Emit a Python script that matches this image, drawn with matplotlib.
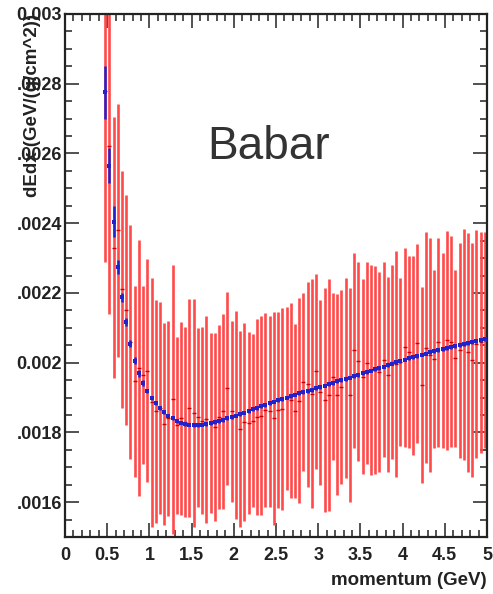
import numpy as np
import matplotlib
matplotlib.use("Agg")
import matplotlib.pyplot as plt
from matplotlib.ticker import FixedLocator, FixedFormatter, MultipleLocator

plt.rcParams['font.family'] = ['Liberation Sans', 'DejaVu Sans']

# ---------------- data ----------------
momentum = np.round(np.arange(0.475, 5.0, 0.05), 3)   # bin centres (GeV)

red_y = [0.00278, 0.00262, 0.00233, 0.00238, 0.00221, 0.00215, 0.00206, 0.001946, 0.001985, 0.001965,
         0.001977, 0.001886, 0.00186, 0.00187, 0.001825, 0.00184, 0.001895, 0.00182, 0.00184, 0.00183,
         0.001869, 0.001855, 0.001843, 0.001834, 0.001837, 0.001826, 0.001816, 0.001843, 0.00186, 0.001926,
         0.00186, 0.00185, 0.00181, 0.00183, 0.001828, 0.001834, 0.001844, 0.001848, 0.001865, 0.00186,
         0.00184, 0.001864, 0.001867, 0.001898, 0.001892, 0.001861, 0.001891, 0.001945, 0.001938, 0.001911,
         0.001975, 0.001915, 0.001893, 0.001907, 0.00196, 0.001908, 0.00193, 0.001956, 0.001908, 0.002035,
         0.002004, 0.00196, 0.002, 0.001979, 0.00198, 0.001974, 0.002009, 0.001965, 0.002002, 0.001996,
         0.002001, 0.002044, 0.00203, 0.00202, 0.002055, 0.001935, 0.002043, 0.002022, 0.00201, 0.002058,
         0.002035, 0.002064, 0.00206, 0.002012, 0.002035, 0.002052, 0.00203, 0.002008, 0.002053, 0.002058,
         0.002065]
red_err = [0.00049, 0.00048, 0.000375, 0.000363, 0.00034, 0.00033, 0.000336, 0.000273, 0.000368, 0.000255,
           0.00032, 0.000356, 0.00032, 0.000303, 0.00029, 0.00028, 0.000385, 0.000254, 0.000278, 0.000273,
           0.000313, 0.000327, 0.000256, 0.000267, 0.000298, 0.000258, 0.00027, 0.000264, 0.00028, 0.000278,
           0.00026, 0.000298, 0.00028, 0.000285, 0.000261, 0.000247, 0.00028, 0.000285, 0.000278, 0.000274,
           0.000306, 0.000282, 0.00029, 0.000263, 0.00028, 0.00025, 0.000294, 0.000255, 0.000294, 0.000329,
           0.00028, 0.000265, 0.00032, 0.000333, 0.000239, 0.000288, 0.000279, 0.000288, 0.000307, 0.00028,
           0.000286, 0.00028, 0.00029, 0.0003, 0.000298, 0.000287, 0.00028, 0.00028, 0.000277, 0.000323,
           0.000241, 0.000285, 0.000276, 0.000286, 0.000285, 0.000281, 0.000331, 0.000335, 0.000256, 0.0003,
           0.00028, 0.000315, 0.000302, 0.000254, 0.000309, 0.00033, 0.000343, 0.000335, 0.000327, 0.000318,
           0.000311]

blue_y = [0.002775, 0.002565, 0.002404, 0.002275, 0.002187, 0.002116, 0.002054, 0.002006, 0.001970, 0.001942,
          0.001918, 0.001899, 0.001883, 0.001870, 0.001858, 0.001848, 0.001840, 0.001833, 0.001828, 0.001824,
          0.001822, 0.001821, 0.001821, 0.001822, 0.001824, 0.001826, 0.001829, 0.001832, 0.001836, 0.001840,
          0.001844, 0.001848, 0.001852, 0.001857, 0.001861, 0.001866, 0.001870, 0.001875, 0.001879, 0.001884,
          0.001888, 0.001892, 0.001896, 0.001900, 0.001904, 0.001908, 0.001912, 0.001915, 0.001919, 0.001922,
          0.001926, 0.001930, 0.001934, 0.001938, 0.001942, 0.001946, 0.001950, 0.001953, 0.001957, 0.001961,
          0.001965, 0.001969, 0.001973, 0.001977, 0.001981, 0.001985, 0.001989, 0.001993, 0.001997, 0.002001,
          0.002005, 0.002009, 0.002012, 0.002016, 0.002019, 0.002023, 0.002026, 0.002030, 0.002033, 0.002036,
          0.002039, 0.002042, 0.002045, 0.002048, 0.002051, 0.002054, 0.002057, 0.002059, 0.002062, 0.002065,
          0.002068]
blue_err = [0.000077, 0.00005, 0.000045, 0.00002, 0.000012, 0.000012, 0.00001, 0.00001, 0.00001, 0.000008] + \
           [0.000005] * 81

y_ticks = [0.0016, 0.0018, 0.002, 0.0022, 0.0024, 0.0026, 0.0028, 0.003]
y_tick_labels = [".0016", ".0018", "0.002", ".0022", ".0024", ".0026", ".0028", "0.003"]
x_ticks = [0, 0.5, 1, 1.5, 2, 2.5, 3, 3.5, 4, 4.5, 5]
x_tick_labels = ["0", "0.5", "1", "1.5", "2", "2.5", "3", "3.5", "4", "4.5", "5"]

# ---------------- figure ----------------
fig = plt.figure(figsize=(4.93, 5.94), dpi=100)
ax = fig.add_axes([65 / 493, 57 / 594, 422 / 493, 523 / 594])

# red data: vertical error bars
ax.errorbar(momentum, red_y, yerr=red_err, fmt='none', ecolor='#ff4a4a',
            elinewidth=1.9, capsize=0, zorder=2)
# red centre markers (small horizontal dashes)
ax.plot(momentum, red_y, linestyle='none', marker='_', markersize=3,
        markeredgewidth=1.0, color='#cc0000', zorder=3)

# blue fit points
ax.errorbar(momentum, blue_y, yerr=blue_err, fmt='s', color='#2222cc',
            markersize=3.0, markeredgewidth=0, elinewidth=1.8, capsize=0, zorder=4)

ax.set_xlim(0, 5)
ax.set_ylim(0.0015, 0.003)

ax.xaxis.set_major_locator(FixedLocator(x_ticks))
ax.xaxis.set_major_formatter(FixedFormatter(x_tick_labels))
ax.xaxis.set_minor_locator(MultipleLocator(0.1))
ax.yaxis.set_major_locator(FixedLocator(y_ticks))
ax.yaxis.set_major_formatter(FixedFormatter(y_tick_labels))
ax.yaxis.set_minor_locator(MultipleLocator(0.00005))

ax.tick_params(which='both', direction='in', top=True, right=True, color='#333333')
ax.tick_params(which='major', length=10, width=1.2)
ax.tick_params(which='minor', length=5, width=1.2)
ax.tick_params(axis='x', which='major', pad=7, labelsize=13, labelcolor='#222222')
ax.tick_params(axis='y', which='major', pad=2, labelsize=13, labelcolor='#222222')
for lab in ax.get_xticklabels() + ax.get_yticklabels():
    lab.set_fontweight('bold')

for s in ax.spines.values():
    s.set_linewidth(1.6)
    s.set_color('#222222')

ax.set_xlabel("momentum (GeV)", loc='right', fontsize=13.5, fontweight='bold', color='#222222')
ax.xaxis.set_label_coords(1.0, -0.066)
ax.set_ylabel("dEdx (GeV/(g/cm^2))", loc='top', fontsize=13.5, fontweight='bold', color='#222222')
ax.yaxis.set_label_coords(-0.056, 1.0)

ax.text(0.337, 0.745, "Babar", transform=ax.transAxes, fontsize=33, color='#333333',
        ha='left', va='center')

fig.savefig("out.png", dpi=100)
